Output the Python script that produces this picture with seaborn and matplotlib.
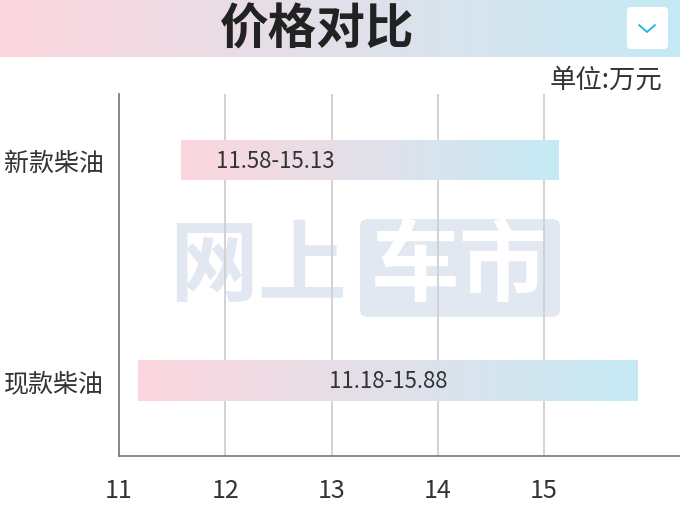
import matplotlib

matplotlib.use("Agg")
import matplotlib.pyplot as plt
from matplotlib.colors import LinearSegmentedColormap
from matplotlib.patches import FancyBboxPatch
import numpy as np
import seaborn as sns

# --- data ---
models = ["新款柴油", "现款柴油"]
price_low = [11.58, 11.18]
price_high = [15.13, 15.88]
price_labels = ["11.58-15.13", "11.18-15.88"]
x_ticks = [11, 12, 13, 14, 15]

title = "价格对比"
unit_text = "单位:万元"
watermark = ["网上", "车市"]

sns.set_theme(style="white")
plt.rcParams["font.family"] = ["Noto Sans CJK SC", "DejaVu Sans"]
num_font = ["Liberation Sans Narrow", "Noto Sans CJK SC", "DejaVu Sans"]

PINK = "#fdd6de"
BLUE = "#c5eaf5"
grad_cmap = LinearSegmentedColormap.from_list("pinkblue", [PINK, BLUE])
grad = np.linspace(0, 1, 256).reshape(1, -1)

W, H = 680, 510
fig = plt.figure(figsize=(6.8, 5.1), dpi=100)
fig.patch.set_facecolor("white")

# --- title banner ---
ban_h = 58 / H
ax_ban = fig.add_axes([0, 1 - ban_h, 1, ban_h])
ax_ban.imshow(grad, extent=(0, W, 0, 58), aspect="auto", cmap=grad_cmap)
ax_ban.set_xlim(0, W)
ax_ban.set_ylim(0, 58)
ax_ban.axis("off")
ax_ban.text(317, 28, title, ha="center", va="center", fontsize=35,
            fontweight="heavy", color="#222222")
ax_ban.add_patch(FancyBboxPatch((627, 8), 41, 42, boxstyle="round,pad=0,rounding_size=4",
                                facecolor="white", edgecolor="none"))
ax_ban.plot([639, 647, 655], [32, 25, 32], color="#1ab6d6", lw=1.3,
            solid_capstyle="round")

fig.text(662 / W, 1 - 80 / H, unit_text, ha="right", va="center",
         fontsize=19, color="#333333")

# --- main axes ---
ax = fig.add_axes([119 / W, 53 / H, 561 / W, 362 / H])
ax.patch.set_alpha(0)

# watermark behind the grid
wm_color = "#e2e8f2"
fig.text(258 / W, 1 - 268 / H, watermark[0], ha="center", va="center",
         fontsize=64, fontweight="bold", color=wm_color, zorder=-2)
wm_ax = fig.add_axes([0, 0, 1, 1], zorder=-1)
wm_ax.set_xlim(0, W)
wm_ax.set_ylim(H, 0)
wm_ax.axis("off")
wm_ax.add_patch(FancyBboxPatch((360, 220), 200, 98, boxstyle="round,pad=0,rounding_size=8",
                               facecolor=wm_color, edgecolor="none"))
wm_ax.text(460, 268, watermark[1], ha="center", va="center", fontsize=64,
           fontweight="bold", color="white")

widths = [h - l for l, h in zip(price_low, price_high)]
sns.barplot(x=widths, y=models, left=price_low, orient="y", width=0.186,
            errorbar=None, color=PINK, ax=ax, zorder=2)

for p in ax.patches:
    x0, y0 = p.get_x(), p.get_y()
    w, h = p.get_width(), p.get_height()
    p.set_facecolor("none")
    p.set_edgecolor("none")
    im = ax.imshow(grad, extent=(x0, x0 + w, y0 + h, y0), aspect="auto",
                   cmap=grad_cmap, zorder=2)
    im.set_clip_path(p)

# price range labels
ax.text(price_low[0] + 0.33, 0, price_labels[0], ha="left", va="center",
        fontsize=16, family=num_font, color="#333333", zorder=3)
ax.text((price_low[1] + price_high[1]) / 2, 1, price_labels[1], ha="center",
        va="center", fontsize=16, family=num_font, color="#333333", zorder=3)

ax.set_xlim(11, 11 + 561 / 106.25)
ax.set_ylim(1.345, -0.3)
ax.set_aspect("auto")
ax.set_xticks(x_ticks)
ax.set_xticklabels([str(t) for t in x_ticks], family=num_font, fontsize=18,
                   color="#333333")
ax.set_yticks([0, 1])
ax.set_yticklabels(models, fontsize=18, color="#333333")
ax.set_xlabel("")
ax.set_ylabel("")
ax.tick_params(axis="x", length=0, pad=15)
ax.tick_params(axis="y", length=0, pad=11)

ax.set_axisbelow(True)
ax.grid(axis="x", color="#cfcfcf", lw=1.3)
ax.grid(axis="y", visible=False)
for s in ["top", "right"]:
    ax.spines[s].set_visible(False)
for s in ["left", "bottom"]:
    ax.spines[s].set_color("#777777")
    ax.spines[s].set_linewidth(1.2)

fig.savefig("out.png", dpi=100)
plt.close(fig)
